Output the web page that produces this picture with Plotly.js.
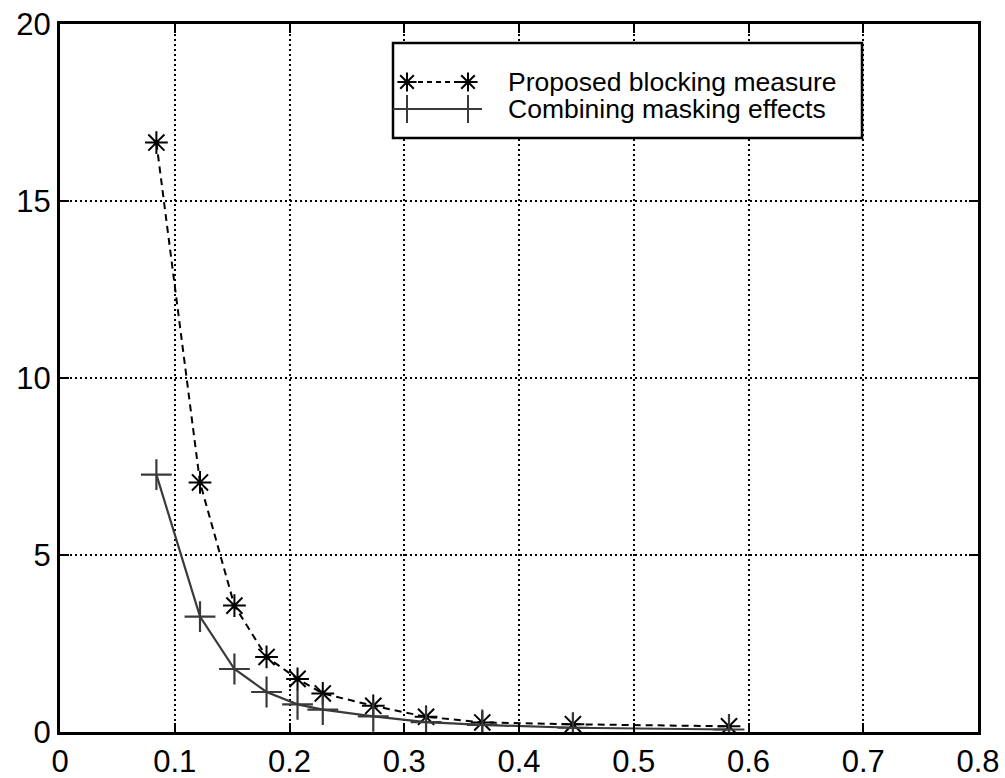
<!DOCTYPE html>
<html>
<head>
<meta charset="utf-8">
<script src="https://cdn.plot.ly/plotly-3.0.1.min.js"></script>
<style>html,body{margin:0;padding:0;background:#fff;}#chart{width:1005px;height:778px;}</style>
</head>
<body>
<div id="chart"></div>
<script>
// Data
var blockX = [0.084, 0.122, 0.152, 0.180, 0.207, 0.229, 0.273, 0.319, 0.368, 0.447, 0.583];
var blockY = [16.65, 7.05, 3.57, 2.12, 1.50, 1.09, 0.74, 0.43, 0.27, 0.22, 0.16];
var maskX  = [0.084, 0.122, 0.152, 0.180, 0.207, 0.229, 0.273, 0.319, 0.368, 0.447, 0.583];
var maskY  = [7.27, 3.26, 1.78, 1.13, 0.78, 0.63, 0.44, 0.28, 0.20, 0.12, 0.07];
var seriesNames = ["Proposed blocking measure", "Combining masking effects"];

var blockColor = '#000000';
var maskColor = '#3a3a3a';
var FONT = 'Liberation Sans, Arial, Helvetica, sans-serif';

// Plot geometry
var W = 1005, H = 778, M = {l: 60, r: 27, t: 24, b: 46};
var xRange = [0, 0.8], yRange = [0, 20];
function px2x(px) { return xRange[0] + (px - M.l) / (W - M.l - M.r) * (xRange[1] - xRange[0]); }
function py2y(py) { return yRange[0] + (H - M.b - py) / (H - M.t - M.b) * (yRange[1] - yRange[0]); }

// Legend layout in figure pixels
var legBox = {x0: 393, x1: 862, y0: 43, y1: 138};
var legRows = [82, 109];
var legSample = [407, 468];
var legLine = [400, 476];
var legTextX = 506;

var traces = [
  {
    x: blockX, y: blockY, name: seriesNames[0], type: 'scatter', mode: 'lines+markers',
    line: {color: blockColor, width: 2, dash: '7px,5px'},
    marker: {symbol: 'asterisk-open', size: 19, color: blockColor, line: {color: blockColor, width: 2}}
  },
  {
    x: maskX, y: maskY, name: seriesNames[1], type: 'scatter', mode: 'lines+markers',
    line: {color: maskColor, width: 2.2},
    marker: {symbol: 'cross-thin-open', size: 22, color: maskColor, line: {color: maskColor, width: 2.2}}
  },
  // legend sample markers
  {
    x: legSample.map(px2x), y: [py2y(legRows[0]), py2y(legRows[0])], mode: 'markers', showlegend: false,
    marker: {symbol: 'asterisk-open', size: 16, color: blockColor, line: {color: blockColor, width: 2}}
  },
  {
    x: legSample.map(px2x), y: [py2y(legRows[1]), py2y(legRows[1])], mode: 'markers', showlegend: false,
    marker: {symbol: 'cross-thin-open', size: 20, color: maskColor, line: {color: maskColor, width: 2}}
  }
];

var axisCommon = {
  showline: true, linecolor: '#000', linewidth: 3, mirror: 'ticks',
  ticks: 'inside', ticklen: 9, tickwidth: 2, tickcolor: '#000',
  showgrid: true, gridcolor: '#000', gridwidth: 2, griddash: '2px,3px',
  zeroline: false,
  tickfont: {family: FONT, size: 31, color: '#000'}
};

var layout = {
  width: W, height: H,
  margin: M,
  paper_bgcolor: '#fff', plot_bgcolor: '#fff',
  showlegend: false,
  xaxis: Object.assign({}, axisCommon, {range: xRange, dtick: 0.1, tick0: 0}),
  yaxis: Object.assign({}, axisCommon, {range: yRange, dtick: 5, tick0: 0}),
  shapes: [
    {type: 'rect', xref: 'x', yref: 'y', x0: px2x(legBox.x0), x1: px2x(legBox.x1), y0: py2y(legBox.y0), y1: py2y(legBox.y1),
     fillcolor: '#fff', line: {color: '#000', width: 2.5}, layer: 'between'},
    {type: 'line', xref: 'x', yref: 'y', x0: px2x(legLine[0]), x1: px2x(legLine[1]), y0: py2y(legRows[0]), y1: py2y(legRows[0]),
     line: {color: blockColor, width: 2, dash: '5px,4px'}, layer: 'between'},
    {type: 'line', xref: 'x', yref: 'y', x0: px2x(legLine[0]), x1: px2x(legLine[1]), y0: py2y(legRows[1]), y1: py2y(legRows[1]),
     line: {color: maskColor, width: 2.2}, layer: 'between'}
  ],
  annotations: [
    {xref: 'x', yref: 'y', x: px2x(legTextX), y: py2y(legRows[0]), text: seriesNames[0], showarrow: false,
     xanchor: 'left', yanchor: 'middle', font: {family: FONT, size: 26.5, color: '#000'}},
    {xref: 'x', yref: 'y', x: px2x(legTextX), y: py2y(legRows[1]), text: seriesNames[1], showarrow: false,
     xanchor: 'left', yanchor: 'middle', font: {family: FONT, size: 26.5, color: '#000'}}
  ]
};

Plotly.newPlot('chart', traces, layout, {displayModeBar: false, staticPlot: true});
</script>
</body>
</html>
